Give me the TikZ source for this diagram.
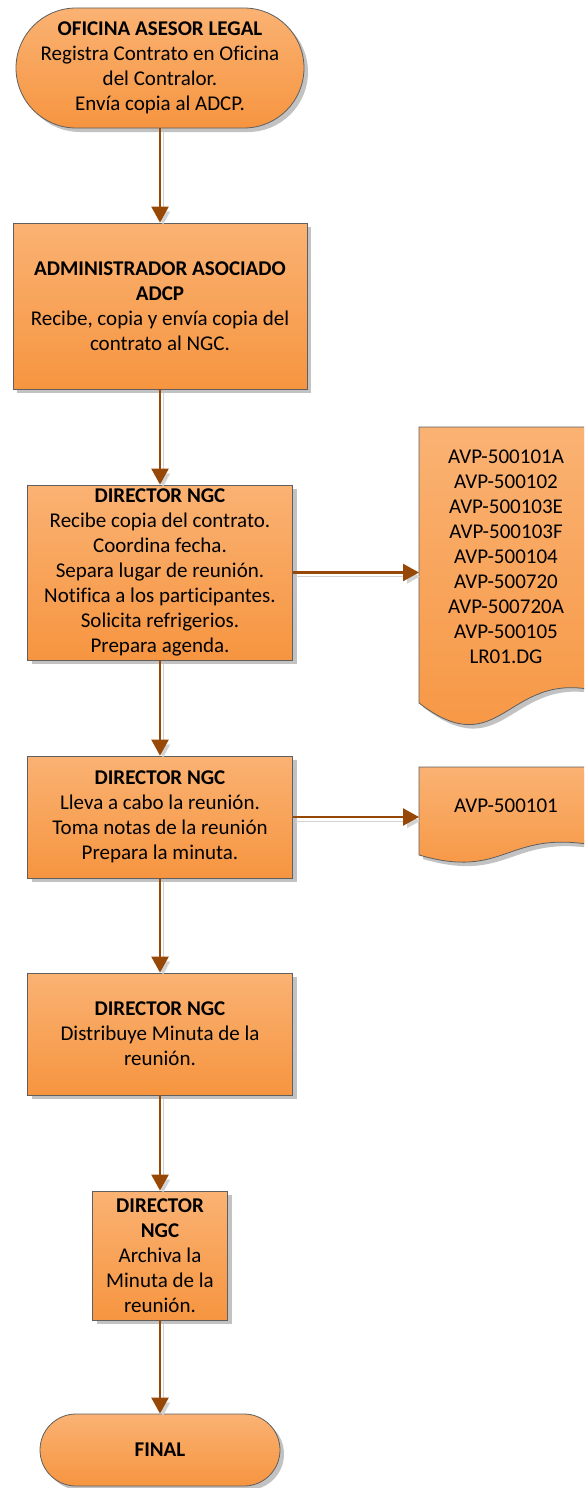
\documentclass[tikz,border=0pt]{standalone}
\usepackage{fontspec}
\setmainfont{Carlito}[Ligatures=NoCommon]
\usetikzlibrary{arrows.meta,shapes.misc,shadows}

\definecolor{orTop}{HTML}{FAB273}
\definecolor{orBot}{HTML}{F69540}
\definecolor{flowline}{HTML}{984806}
\definecolor{edgeline}{HTML}{5F5F5F}
\definecolor{shadegray}{HTML}{C2C2C2}
\definecolor{lineshade}{HTML}{D2D2D2}

\tikzset{
  txt/.style={align=center, inner sep=0pt, font=\fontsize{21}{25}\selectfont},
  base/.style={txt, draw=edgeline, line width=0.8pt,
    top color=orTop, bottom color=orBot,
    general shadow={shadow xshift=4pt, shadow yshift=-4pt, fill=shadegray}},
  process/.style={base, rectangle},
  terminal/.style={base, rounded rectangle},
  docshape/.style={draw=edgeline, line width=0.8pt,
    top color=orTop, bottom color=orBot,
    general shadow={shadow xshift=4pt, shadow yshift=-4pt, fill=shadegray}},
  tip/.style={-{Triangle[width=17pt,length=16pt]}},
  flow/.style={tip, draw=flowline, line width=2.4pt,
    preaction={draw=lineshade, transform canvas={shift={(3pt,-4pt)}}, fill=lineshade}},
}

\begin{document}
\begin{tikzpicture}[x=1pt,y=-1pt]
\clip (0,0) rectangle (584,1488);
\useasboundingbox (0,0) rectangle (584,1488);

% main column
\node[terminal, minimum width=288pt, minimum height=120pt] (t1) at (160,68)
  {\textbf{OFICINA ASESOR LEGAL}\\Registra Contrato en Oficina\\del Contralor.\\Envía copia al ADCP.};
\node[process, minimum width=294pt, minimum height=166pt] (b2) at (160,306)
  {\textbf{ADMINISTRADOR ASOCIADO}\\\textbf{ADCP}\\Recibe, copia y envía copia del\\contrato al NGC.};
\node[process, minimum width=265pt, minimum height=175pt] (b3) at (160,572.5)
  {\textbf{DIRECTOR NGC}\\Recibe copia del contrato.\\Coordina fecha.\\Separa lugar de reunión.\\Notifica a los participantes.\\Solicita refrigerios.\\Prepara agenda.};
\node[process, minimum width=265pt, minimum height=122pt] (b4) at (160,817)
  {\textbf{DIRECTOR NGC}\\Lleva a cabo la reunión.\\Toma notas de la reunión\\Prepara la minuta.};
\node[process, minimum width=265pt, minimum height=122pt] (b5) at (160,1034)
  {\textbf{DIRECTOR NGC}\\Distribuye Minuta de la\\reunión.};
\node[process, minimum width=135pt, minimum height=129pt] (b6) at (160,1255.5)
  {\textbf{DIRECTOR}\\\textbf{NGC}\\Archiva la\\Minuta de la\\reunión.};
\node[terminal, minimum width=240pt, minimum height=72pt] (t2) at (160,1450)
  {\textbf{FINAL}};

% documents
\path[docshape] (419,427) -- (593,427) -- (593,690)
  .. controls (506,672) and (500,765) .. (419,703) -- cycle;
\node[txt] (d1) at (506,557)
  {AVP-500101A\\AVP-500102\\AVP-500103E\\AVP-500103F\\AVP-500104\\AVP-500720\\AVP-500720A\\AVP-500105\\LR01.DG};
\coordinate (d1in) at (419,572.5);

\path[docshape] (419,767) -- (593,767) -- (593,845)
  .. controls (506,830) and (505,880) .. (419,855) -- cycle;
\node[txt] (d2) at (506,806) {AVP-500101};
\coordinate (d2in) at (419,817);

% connectors
\draw[flow] (t1.south) -- (b2.north);
\draw[flow] (b2.south) -- (b3.north);
\draw[flow] (b3.south) -- (b4.north);
\draw[flow] (b4.south) -- (b5.north);
\draw[flow] (b5.south) -- (b6.north);
\draw[flow] (b6.south) -- (t2.north);
\draw[flow] (b3.east) -- (d1in);
\draw[flow] (b4.east) -- (d2in);
\end{tikzpicture}
\end{document}
